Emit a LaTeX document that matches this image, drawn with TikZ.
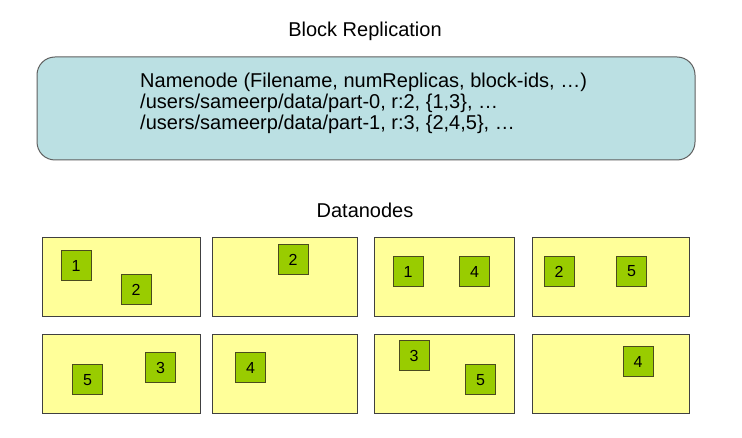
\documentclass[tikz,border=0pt]{standalone}
\usepackage{fontspec}
\setmainfont{Liberation Sans}
\definecolor{nnfill}{HTML}{BBE0E3}
\definecolor{dnfill}{HTML}{FFFF99}
\definecolor{blk}{HTML}{99CC00}
\definecolor{edge}{HTML}{404040}
\definecolor{nnedge}{HTML}{606060}
\definecolor{blkedge}{HTML}{4A4A1E}
\begin{document}
\begin{tikzpicture}[x=1pt,y=-1pt,
  dnbox/.style={draw=edge,fill=dnfill,line width=1pt},
  blkbox/.style={draw=blkedge,fill=blk,line width=1pt,minimum width=30pt,minimum height=30pt,inner sep=0pt,font=\fontsize{16}{16}\selectfont},
  lbl/.style={font=\fontsize{20}{20}\selectfont,inner sep=0pt}]
\useasboundingbox[fill=white] (0,0) rectangle (742,438);
\node[lbl,anchor=base] (title) at (365,37) {Block Replication};
\draw[draw=nnedge,fill=nnfill,line width=1pt,rounded corners=18pt] (37,57) rectangle (695,160);
\node[lbl,anchor=base west] (nn) at (140,88) {Namenode (Filename, numReplicas, block-ids, …)};
\node[lbl,anchor=base west] (p0) at (140,109) {/users/sameerp/data/part-0, r:2, \{1,3\}, …};
\node[lbl,anchor=base west] (p1) at (140,130) {/users/sameerp/data/part-1, r:3, \{2,4,5\}, …};
\node[lbl,anchor=base] (dn) at (365,218) {Datanodes};
% row 1
\draw[dnbox] (42,238) rectangle (200,317);
\draw[dnbox] (212,238) rectangle (357,317);
\draw[dnbox] (374,238) rectangle (514,317);
\draw[dnbox] (532,238) rectangle (689,317);
% row 2
\draw[dnbox] (42,335) rectangle (200,413);
\draw[dnbox] (212,335) rectangle (357,413);
\draw[dnbox] (374,335) rectangle (514,413);
\draw[dnbox] (532,335) rectangle (689,413);
% blocks
\node[blkbox] (a1) at (76,265.5) {1};
\node[blkbox] (a2) at (136,289.5) {2};
\node[blkbox] (b2) at (293,259.5) {2};
\node[blkbox] (c1) at (408,271.5) {1};
\node[blkbox] (c4) at (474.5,271.5) {4};
\node[blkbox] (d2) at (559,271.5) {2};
\node[blkbox] (d5) at (631.5,271.5) {5};
\node[blkbox] (e5) at (87.5,380) {5};
\node[blkbox] (e3) at (160.5,368) {3};
\node[blkbox] (f4) at (250.5,368) {4};
\node[blkbox] (g3) at (414,356) {3};
\node[blkbox] (g5) at (480.5,380) {5};
\node[blkbox] (h4) at (638,362) {4};
\end{tikzpicture}
\end{document}
